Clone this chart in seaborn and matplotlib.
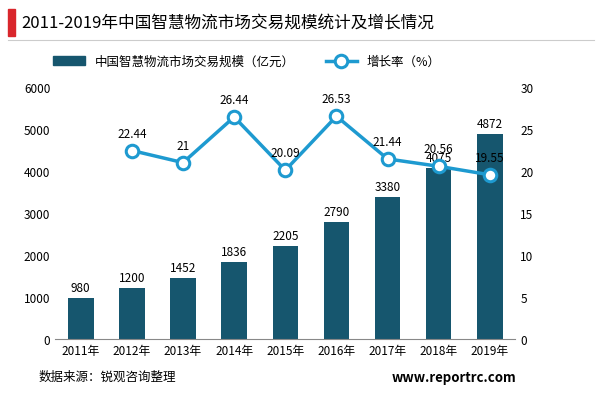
import numpy as np
import pandas as pd
import matplotlib
matplotlib.use("Agg")
import matplotlib.pyplot as plt
import seaborn as sns

plt.rcParams["font.family"] = "Noto Sans CJK SC"

years = ["2011年", "2012年", "2013年", "2014年", "2015年", "2016年", "2017年", "2018年", "2019年"]
scale = [980, 1200, 1452, 1836, 2205, 2790, 3380, 4075, 4872]
growth = [None, 22.44, 21, 26.44, 20.09, 26.53, 21.44, 20.56, 19.55]
growth_labels = ["", "22.44", "21", "26.44", "20.09", "26.53", "21.44", "20.56", "19.55"]

df = pd.DataFrame({"year": years, "scale": scale, "growth": growth})

bar_color = "#16566e"
line_color = "#1e9ad0"

fig = plt.figure(figsize=(6.0, 4.06), dpi=100)
ax = fig.add_axes([0.092, 0.163, 0.767, 0.62])
sns.barplot(data=df, x="year", y="scale", color=bar_color, width=0.5, ax=ax,
            saturation=1)
ax.set_ylim(0, 6000)
ax.set_yticks(range(0, 6001, 1000))
ax.set_xlabel("")
ax.set_ylabel("")
for i, v in enumerate(scale):
    ax.text(i, v + 100, str(v), ha="center", va="bottom", fontsize=8.5)

ax2 = ax.twinx()
x = np.arange(len(years))
ax2.plot(x[1:], growth[1:], color=line_color, linewidth=2.5, marker="o",
         markersize=9, markerfacecolor="white", markeredgewidth=2.2,
         label="增长率（%）")
ax2.set_ylim(0, 30)
ax2.set_yticks(range(0, 31, 5))
for i in range(1, len(years)):
    ax2.text(i, growth[i] + 1.3, growth_labels[i], ha="center", va="bottom", fontsize=8.5)

for a in (ax, ax2):
    for s in a.spines.values():
        s.set_visible(False)
    a.tick_params(length=0, labelsize=8.5)
ax.spines["bottom"].set_visible(True)
ax.spines["bottom"].set_color("#888888")
ax.set_xlim(-0.5, len(years) - 0.5)

bar_handle = plt.Rectangle((0, 0), 1, 1, color=bar_color)
h2, l2 = ax2.get_legend_handles_labels()
fig.legend([bar_handle] + h2, ["中国智慧物流市场交易规模（亿元）"] + l2,
           loc="upper left", bbox_to_anchor=(0.07, 0.89), ncol=2,
           frameon=False, fontsize=9, handlelength=2.5, columnspacing=2.5)

fig.add_artist(plt.Rectangle((0.013, 0.91), 0.012, 0.065, color="#d9262c",
                             transform=fig.transFigure))
fig.text(0.035, 0.943, "2011-2019年中国智慧物流市场交易规模统计及增长情况",
         fontsize=12, va="center")
fig.add_artist(plt.Line2D([0.013, 0.99], [0.9, 0.9], color="#cccccc", linewidth=0.8,
                          transform=fig.transFigure))
fig.text(0.065, 0.07, "数据来源：锐观咨询整理", fontsize=9, va="center")
fig.text(0.86, 0.07, "www.reportrc.com", fontsize=9.5, fontweight="bold",
         va="center", ha="right")

fig.savefig("out.png", dpi=100)
